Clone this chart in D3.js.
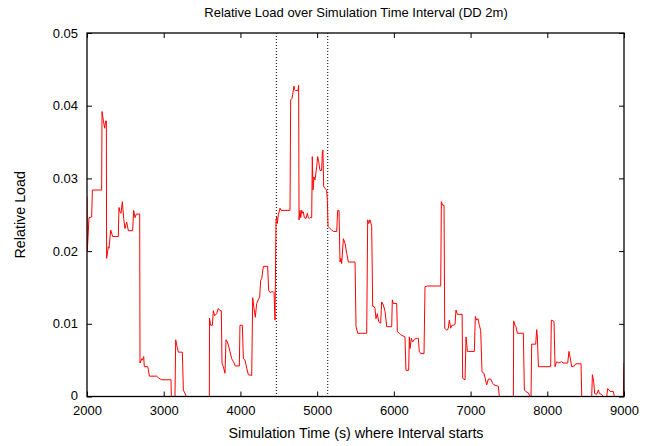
<!DOCTYPE html>
<html>
<head>
<meta charset="utf-8">
<script src="https://cdn.jsdelivr.net/npm/d3@7"></script>
<style>
  body { margin: 0; background: #fff; }
  svg { display: block; font-family: "Liberation Sans", Arial, sans-serif; }
  .tick line { stroke: #000; }
  .tick text { font-size: 13px; fill: #000; }
</style>
</head>
<body>
<div id="chart"></div>
<script>
// interval start times (s) and relative load
const times = [
  2000, 2004, 2026, 2061, 2070, 2191, 2196, 2213, 2230, 2243, 2252, 2256, 2278, 2287, 2309, 2335,
  2408, 2417, 2430, 2443, 2461, 2478, 2495, 2517, 2539, 2595, 2608, 2626, 2643, 2687, 2691, 2713,
  2726, 2739, 2747, 2791, 2800, 2813, 2908, 2939, 2973, 3095, 3099, 3147, 3156, 3173, 3191, 3243,
  3256, 3269, 3286, 3299, 3590, 3595, 3597, 3612, 3634, 3647, 3664, 3690, 3712, 3734, 3751, 3760,
  3777, 3799, 3812, 3829, 3842, 3864, 3886, 3908, 3934, 3986, 3994, 4025, 4038, 4060, 4082, 4103,
  4147, 4160, 4177, 4194, 4212, 4233, 4251, 4264, 4277, 4299, 4355, 4368, 4386, 4408, 4429, 4438,
  4451, 4464, 4473, 4481, 4494, 4516, 4529, 4646, 4655, 4672, 4681, 4698, 4707, 4716, 4751, 4759,
  4764, 4777, 4786, 4798, 4812, 4820, 4833, 4855, 4872, 4885, 4898, 4907, 4929, 4937, 4946, 4959,
  4972, 4994, 5007, 5020, 5037, 5059, 5068, 5076, 5085, 5103, 5124, 5133, 5142, 5168, 5190, 5211,
  5255, 5268, 5285, 5298, 5311, 5320, 5342, 5363, 5385, 5407, 5494, 5507, 5529, 5646, 5659, 5672,
  5689, 5711, 5724, 5741, 5754, 5767, 5785, 5802, 5828, 5841, 5863, 5885, 5907, 5972, 5980, 5993,
  6037, 6046, 6072, 6089, 6124, 6145, 6158, 6193, 6202, 6211, 6228, 6245, 6271, 6297, 6319, 6332,
  6350, 6393, 6406, 6437, 6611, 6619, 6637, 6654, 6663, 6689, 6710, 6723, 6741, 6758, 6775, 6797,
  6810, 6828, 6890, 6897, 6928, 6941, 6958, 6976, 7049, 7062, 7080, 7097, 7114, 7132, 7149, 7175,
  7193, 7210, 7232, 7262, 7288, 7306, 7362, 7375, 7558, 7562, 7579, 7592, 7610, 7688, 7701, 7718,
  7753, 7766, 7779, 7788, 7797, 7849, 7862, 7871, 7884, 8044, 8053, 8075, 8088, 8101, 8114, 8127,
  8144, 8170, 8188, 8205, 8266, 8283, 8301, 8318, 8353, 8370, 8440, 8449, 8579, 8588, 8605, 8618,
  8644, 8666, 8679, 8709, 8731, 8774, 8788, 8805, 8818, 8861, 8874, 8992, 9000
];
const loads = [
  0.0275, 0.0199, 0.0246, 0.0247, 0.0284, 0.0284, 0.0392, 0.0380, 0.0369, 0.0379, 0.0379, 0.0190, 0.0206, 0.0204, 0.0229, 0.0220,
  0.0220, 0.0260, 0.0254, 0.0252, 0.0268, 0.0245, 0.0231, 0.0240, 0.0228, 0.0228, 0.0256, 0.0246, 0.0251, 0.0251, 0.0046, 0.0052,
  0.0050, 0.0055, 0.0041, 0.0041, 0.0037, 0.0028, 0.0028, 0.0025, 0.0023, 0.0023, 0, 0, 0.0078, 0.0069, 0.0061, 0.0061,
  0.0009, 0.0006, 0.0002, 0, 0, 0, 0.0108, 0.0098, 0.0098, 0.0118, 0.0111, 0.0114, 0.0121, 0.0118, 0.0118, 0.0046,
  0.0041, 0.0032, 0.0078, 0.0075, 0.0071, 0.0062, 0.0052, 0.0048, 0.0042, 0.0042, 0.0098, 0.0098, 0.0052, 0.0050, 0.0039, 0.0030,
  0.0029, 0.0136, 0.0121, 0.0109, 0.0128, 0.0133, 0.0137, 0.0160, 0.0162, 0.0179, 0.0179, 0.0146, 0.0143, 0.0144, 0.0144, 0.0143,
  0.0105, 0.0243, 0.0247, 0.0238, 0.0250, 0.0259, 0.0256, 0.0256, 0.0408, 0.0410, 0.0415, 0.0427, 0.0422, 0.0421, 0.0421, 0.0428,
  0.0243, 0.0256, 0.0246, 0.0256, 0.0252, 0.0254, 0.0246, 0.0245, 0.0252, 0.0246, 0.0245, 0.0246, 0.0246, 0.0330, 0.0284, 0.0302,
  0.0298, 0.0316, 0.0330, 0.0323, 0.0311, 0.0311, 0.0337, 0.0339, 0.0289, 0.0286, 0.0284, 0.0270, 0.0234, 0.0231, 0.0229, 0.0227,
  0.0227, 0.0256, 0.0256, 0.0185, 0.0190, 0.0183, 0.0217, 0.0211, 0.0197, 0.0185, 0.0185, 0.0096, 0.0087, 0.0087, 0.0243, 0.0238,
  0.0243, 0.0234, 0.0124, 0.0124, 0.0121, 0.0107, 0.0114, 0.0103, 0.0101, 0.0130, 0.0126, 0.0117, 0.0096, 0.0096, 0.0133, 0.0128,
  0.0128, 0.0089, 0.0087, 0.0085, 0.0083, 0.0082, 0.0036, 0.0036, 0.0082, 0.0066, 0.0080, 0.0075, 0.0079, 0.0080, 0.0080, 0.0062,
  0.0059, 0.0059, 0.0151, 0.0152, 0.0152, 0.0268, 0.0263, 0.0263, 0.0094, 0.0091, 0.0094, 0.0105, 0.0094, 0.0098, 0.0098, 0.0099,
  0.0119, 0.0113, 0.0113, 0.0025, 0.0023, 0.0082, 0.0062, 0.0062, 0.0062, 0.0110, 0.0105, 0.0107, 0.0098, 0.0091, 0.0034, 0.0032,
  0.0024, 0.0016, 0.0024, 0.0024, 0.0018, 0.0016, 0.0014, 0, 0, 0.0104, 0.0098, 0.0096, 0.0087, 0.0087, 0.0009, 0.0007,
  0.0005, 0.0002, 0, 0, 0.0072, 0.0072, 0.0092, 0.0082, 0.0041, 0.0041, 0.0105, 0.0104, 0.0103, 0.0041, 0.0046, 0.0048,
  0.0046, 0.0047, 0.0048, 0.0046, 0.0046, 0.0062, 0.0052, 0.0041, 0.0042, 0.0045, 0.0045, 0, 0, 0.0030, 0.0020, 0.0004,
  0.0003, 0.0009, 0.0004, 0.0003, 0, 0, 0.0011, 0.0009, 0.0007, 0.0007, 0, 0, 0.0046
];
const markerTimes = [4468, 5138];
const xTicks = [2000, 3000, 4000, 5000, 6000, 7000, 8000, 9000];
const yTicks = [0, 0.01, 0.02, 0.03, 0.04, 0.05];

const W = 662, H = 446;
const plotL = 87, plotR = 624, plotT = 33, plotB = 396.5;

const svg = d3.select('#chart').append('svg')
  .attr('width', W).attr('height', H);

const x = d3.scaleLinear().domain([2000, 9000]).range([plotL, plotR]);
const y = d3.scaleLinear().domain([0, 0.05]).range([plotB, plotT]);

svg.append('defs').append('clipPath').attr('id', 'plot')
  .append('rect').attr('x', plotL).attr('y', plotT)
  .attr('width', plotR - plotL).attr('height', plotB - plotT);

// axes: ticks point inward, mirrored on top and right
const fmtY = v => v === 0 ? '0' : d3.format('.2f')(v);

const gB = svg.append('g').attr('transform', 'translate(0,' + plotB + ')')
  .call(d3.axisBottom(x).tickValues(xTicks).tickSize(-5).tickPadding(9).tickFormat(d3.format('d')));
const gT = svg.append('g').attr('transform', 'translate(0,' + plotT + ')')
  .call(d3.axisTop(x).tickValues(xTicks).tickSize(-5).tickFormat(''));
const gL = svg.append('g').attr('transform', 'translate(' + plotL + ',0)')
  .call(d3.axisLeft(y).tickValues(yTicks).tickSize(-5).tickPadding(9).tickFormat(fmtY));
const gR = svg.append('g').attr('transform', 'translate(' + plotR + ',0)')
  .call(d3.axisRight(y).tickValues(yTicks).tickSize(-5).tickFormat(''));
[gB, gT, gL, gR].forEach(g => {
  g.select('.domain').remove();
  g.attr('font-family', null).attr('font-size', null);
});
// keep the "0" label clear of the "2000" label below it
gL.selectAll('.tick text').filter(d => d === 0).attr('dy', '0.2em');

// dotted markers
svg.selectAll('.marker').data(markerTimes).enter().append('line')
  .attr('class', 'marker')
  .attr('x1', d => x(d)).attr('x2', d => x(d))
  .attr('y1', plotT).attr('y2', plotB)
  .attr('stroke', '#000').attr('stroke-width', 1)
  .attr('stroke-dasharray', '1,2');

const pts = times.map((t, i) => [t, loads[i]]);
svg.append('path').datum(pts)
  .attr('clip-path', 'url(#plot)')
  .attr('fill', 'none').attr('stroke', '#ff0000').attr('stroke-width', 1)
  .attr('d', d3.line().x(d => x(d[0])).y(d => y(d[1])));

svg.append('rect')
  .attr('x', plotL).attr('y', plotT)
  .attr('width', plotR - plotL).attr('height', plotB - plotT)
  .attr('fill', 'none').attr('stroke', '#000').attr('stroke-width', 1.3);

svg.append('text')
  .attr('x', 356).attr('y', 17)
  .attr('text-anchor', 'middle').attr('font-size', 13)
  .text('Relative Load over Simulation Time Interval (DD 2m)');

svg.append('text')
  .attr('x', 356).attr('y', 438)
  .attr('text-anchor', 'middle').attr('font-size', 14.3)
  .text('Simulation Time (s) where Interval starts');

svg.append('text')
  .attr('transform', 'translate(25,' + (plotT + plotB) / 2 + ') rotate(-90)')
  .attr('text-anchor', 'middle').attr('font-size', 14.3)
  .text('Relative Load');
</script>
</body>
</html>
